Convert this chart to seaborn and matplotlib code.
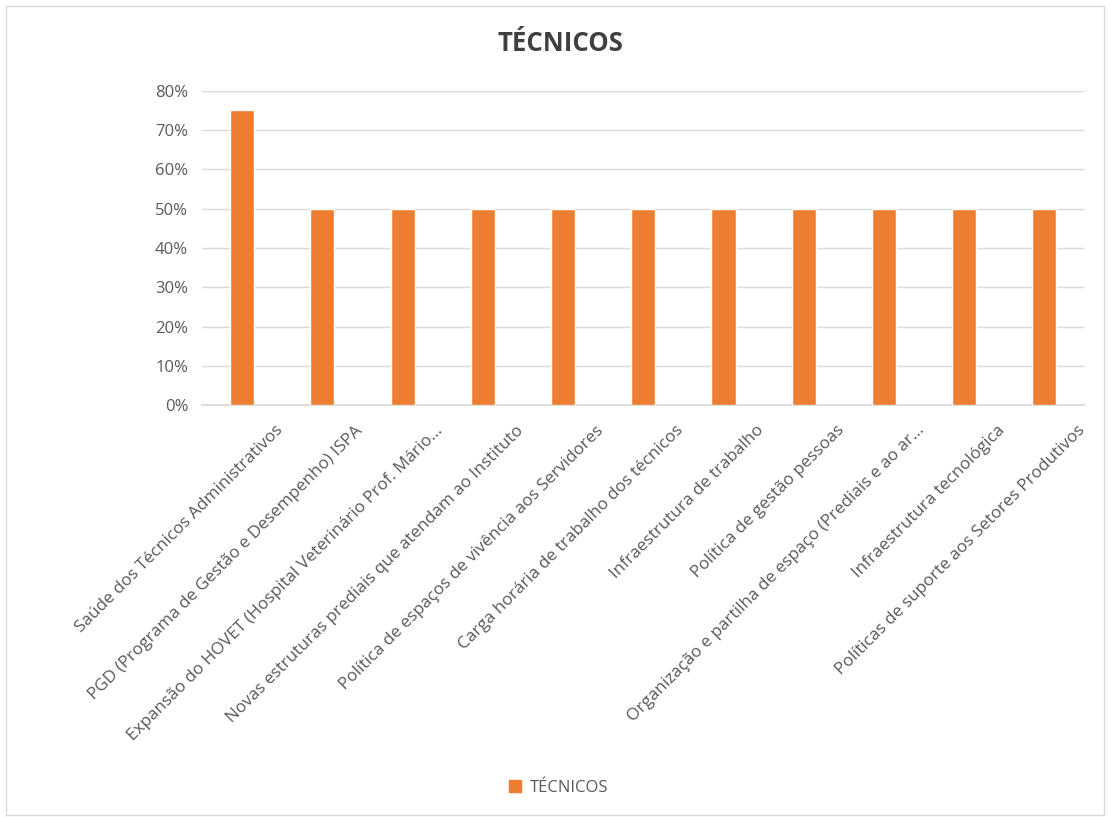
import matplotlib
matplotlib.use("Agg")
import matplotlib.pyplot as plt
import matplotlib.transforms as mtransforms
from matplotlib.patches import Rectangle
import seaborn as sns
import pandas as pd

categorias = [
    "Saúde dos Técnicos Administrativos",
    "PGD (Programa de Gestão e Desempenho) ISPA",
    "Expansão do HOVET (Hospital Veterinário Prof. Mário...",
    "Novas estruturas prediais que atendam ao Instituto",
    "Política de espaços de vivência aos Servidores",
    "Carga horária de trabalho dos técnicos",
    "Infraestrutura de trabalho",
    "Política de gestão pessoas",
    "Organização e partilha de espaço (Prediais e ao ar...",
    "Infraestrutura tecnológica",
    "Políticas de suporte aos Setores Produtivos",
]
valores = [0.75, 0.50, 0.50, 0.50, 0.50, 0.50, 0.50, 0.50, 0.50, 0.50, 0.50]
serie = "TÉCNICOS"
ticks_y = [0, 0.1, 0.2, 0.3, 0.4, 0.5, 0.6, 0.7, 0.8]

laranja = "#ED7D31"
cinza_txt = "#595959"
cinza_grade = "#D9D9D9"

sns.set_theme(style="white")
plt.rcParams["font.family"] = ["Open Sans", "DejaVu Sans"]

df = pd.DataFrame({"categoria": categorias, "valor": valores, "serie": serie})

fig = plt.figure(figsize=(11.10, 8.17), dpi=100)
ax = fig.add_axes([0.182, 0.504, 0.795, 0.385])

sns.barplot(data=df, x="categoria", y="valor", color=laranja, width=0.3,
            saturation=1, ax=ax, zorder=3)

ax.set_ylim(0, 0.8)
ax.set_yticks(ticks_y)
ax.set_yticklabels([f"{int(round(t * 100))}%" for t in ticks_y],
                   color=cinza_txt, fontsize=12)
ax.yaxis.grid(True, color=cinza_grade, linewidth=1, zorder=0)
ax.set_xlabel("")
ax.set_ylabel("")
for lado in ["top", "right", "left"]:
    ax.spines[lado].set_visible(False)
ax.spines["bottom"].set_color(cinza_grade)
ax.tick_params(axis="both", length=0, pad=10)

# rotated category labels, nudged so their ends sit just right of each bar
offset = mtransforms.ScaledTranslation(38 / 100, -9 / 100, fig.dpi_scale_trans)
ax.set_xticks(range(len(categorias)))
ax.set_xticklabels(categorias, rotation=45, ha="right", va="center",
                   rotation_mode="anchor", color=cinza_txt, fontsize=12.3)
for lbl in ax.get_xticklabels():
    lbl.set_transform(lbl.get_transform() + offset)

fig.text(0.505, 0.947, "TÉCNICOS", ha="center", va="center",
         fontsize=18.5, fontweight="bold", color="#404040")

ax.legend(handles=[Rectangle((0, 0), 1, 1, color=laranja)], labels=[serie],
          loc="center", bbox_to_anchor=(0.503, 0.036), bbox_transform=fig.transFigure,
          frameon=False, fontsize=12, handlelength=0.75, handleheight=0.75,
          handletextpad=0.5, labelcolor=cinza_txt)

fig.patches.append(Rectangle((0.005, 0.003), 0.99, 0.99, transform=fig.transFigure,
                             fill=False, edgecolor="#D9D9D9", linewidth=1))

fig.savefig("out.png", dpi=100, facecolor="white")
